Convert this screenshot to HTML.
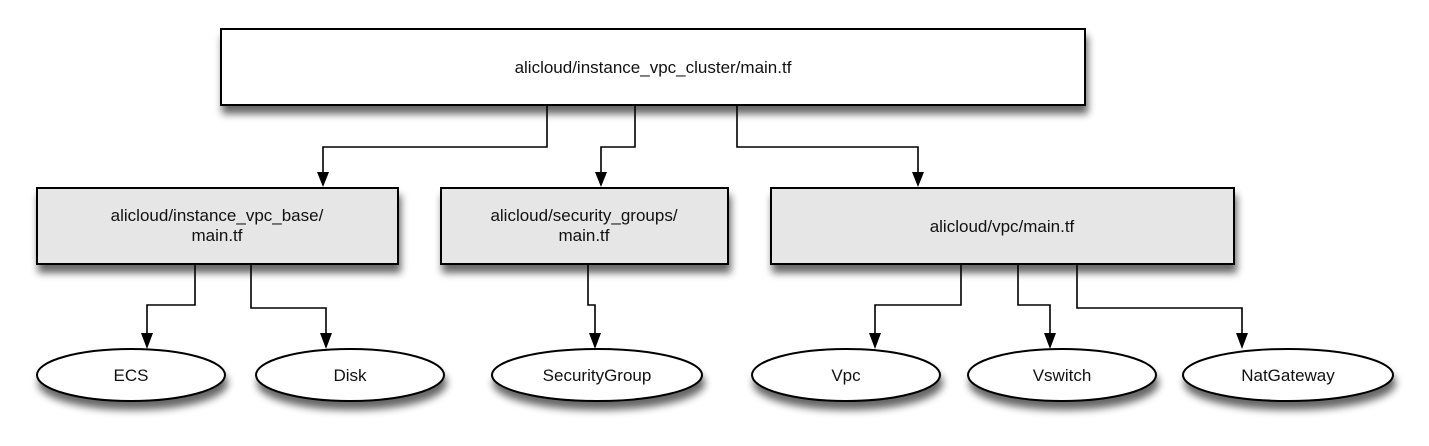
<!DOCTYPE html>
<html><head><meta charset="utf-8"><style>
html,body{margin:0;padding:0;background:#fff;width:1429px;height:446px;overflow:hidden}
text{font-family:"Liberation Sans",sans-serif;font-size:17px;fill:#111}
</style></head><body>
<svg width="1429" height="446" viewBox="0 0 1429 446" xmlns="http://www.w3.org/2000/svg">
<defs>
<filter id="sh" x="-10%" y="-20%" width="125%" height="160%">
<feGaussianBlur in="SourceAlpha" stdDeviation="4"/>
<feOffset dx="2" dy="8" result="b"/>
<feComponentTransfer><feFuncA type="linear" slope="0.6"/></feComponentTransfer>
<feMerge><feMergeNode/><feMergeNode in="SourceGraphic"/></feMerge>
</filter>
<marker id="ar" markerWidth="12" markerHeight="16" refX="6" refY="15" orient="auto" markerUnits="userSpaceOnUse" viewBox="0 0 12 16">
</marker>
</defs>
<g stroke="#000" stroke-width="2" fill="#fff" filter="url(#sh)">
<rect x="221" y="29" width="864" height="76"/>
<rect x="37" y="188" width="361" height="76" fill="#e6e6e6"/>
<rect x="441" y="188" width="287" height="76" fill="#e6e6e6"/>
<rect x="771" y="188" width="463" height="76" fill="#e6e6e6"/>
<ellipse cx="131" cy="375" rx="94" ry="26"/>
<ellipse cx="350" cy="375" rx="94" ry="26"/>
<ellipse cx="597" cy="375" rx="105" ry="26"/>
<ellipse cx="846" cy="375" rx="94" ry="26"/>
<ellipse cx="1062" cy="375" rx="94" ry="26"/>
<ellipse cx="1288" cy="375" rx="105" ry="26"/>
</g>
<g stroke="#000" stroke-width="1.6" fill="none">
<polyline points="547,105 547,147 323,147 323,172"/>
<polyline points="635,105 635,147 601,147 601,172"/>
<polyline points="737,105 737,147 918,147 918,172"/>
<polyline points="195,264 195,305 147,305 147,333"/>
<polyline points="251,264 251,308 326,308 326,333"/>
<polyline points="588,264 588,305 595,305 595,333"/>
<polyline points="961,264 961,305 875,305 875,333"/>
<polyline points="1018,264 1018,305 1050,305 1050,333"/>
<polyline points="1077,264 1077,308 1242,308 1242,333"/>
</g>
<g fill="#000">
<polygon points="317,172 329,172 323,187"/>
<polygon points="595,172 607,172 601,187"/>
<polygon points="912,172 924,172 918,187"/>
<polygon points="141,333 153,333 147,349"/>
<polygon points="320,333 332,333 326,349"/>
<polygon points="589,333 601,333 595,349"/>
<polygon points="869,333 881,333 875,349"/>
<polygon points="1044,333 1056,333 1050,349"/>
<polygon points="1236,333 1248,333 1242,349"/>
</g>
<g text-anchor="middle">
<text x="653" y="73">alicloud/instance_vpc_cluster/main.tf</text>
<text x="217" y="221">alicloud/instance_vpc_base/</text>
<text x="217" y="241">main.tf</text>
<text x="584" y="221">alicloud/security_groups/</text>
<text x="584" y="241">main.tf</text>
<text x="1002" y="232">alicloud/vpc/main.tf</text>
<text x="131" y="381">ECS</text>
<text x="350" y="381">Disk</text>
<text x="597" y="381">SecurityGroup</text>
<text x="846" y="381">Vpc</text>
<text x="1062" y="381">Vswitch</text>
<text x="1288" y="381">NatGateway</text>
</g>
</svg>
</body></html>
